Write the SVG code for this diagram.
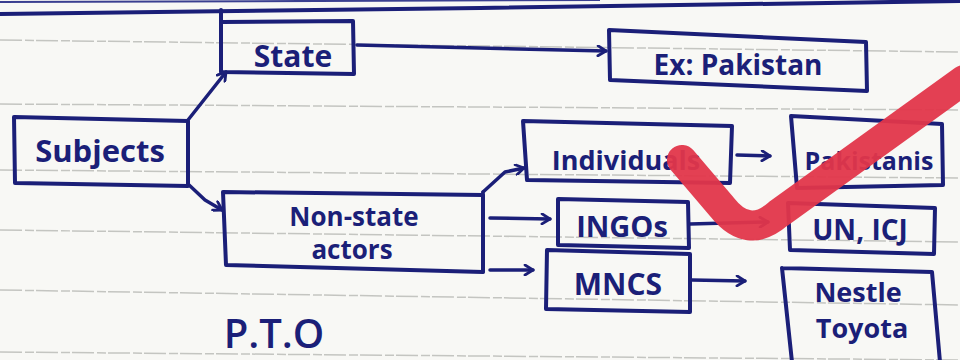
<svg xmlns="http://www.w3.org/2000/svg" width="960" height="360" viewBox="0 0 960 360">
<defs>
<style>
.bg{fill:#f8f8f5}
.rule{stroke:#c4c5c1;stroke-width:1.5;stroke-dasharray:22 3 9 2;fill:none}
.box{fill:none;stroke:#1b1f78;stroke-width:4;stroke-linejoin:round;stroke-linecap:round}
.ink{stroke:#1b1f78;stroke-width:3.5;fill:none;stroke-linecap:round;stroke-linejoin:round}
.t{font-family:"Open Sans","Liberation Sans",sans-serif;font-weight:700;fill:#1b1f78;text-anchor:middle}
</style>
<marker id="ah" viewBox="0 0 12 12" refX="10" refY="6" markerWidth="12" markerHeight="12" markerUnits="userSpaceOnUse" orient="auto">
<path d="M2,1 L10,6 L2,11" fill="none" stroke="#1b1f78" stroke-width="2.8" stroke-linecap="round" stroke-linejoin="round"/>
</marker>
</defs>
<rect class="bg" x="0" y="0" width="960" height="360"/>
<g id="paper">
<path class="rule" d="M0,40 L960,52"/>
<path class="rule" d="M0,104 L960,110"/>
<path class="rule" d="M0,170 L960,178"/>
<path class="rule" d="M0,230 L960,242"/>
<path class="rule" d="M0,290 L960,305"/>
<path class="rule" d="M0,352 L960,360"/>
<path d="M0,14 L480,8 L960,1" stroke="#1b1f78" stroke-width="4" fill="none"/>
<path d="M0,2 L600,0" stroke="#3a3f90" stroke-width="2" fill="none"/>
</g>
<g id="connectors">
<path class="ink" d="M188,120 L226,72" marker-end="url(#ah)"/>
<path class="ink" d="M188,184 L205,200 L222,210" marker-end="url(#ah)"/>
<path class="ink" d="M357,45 L606,51" marker-end="url(#ah)"/>
<path class="ink" d="M483,192 L505,172 L524,168" marker-end="url(#ah)"/>
<path class="ink" d="M483,192 L483,272"/>
<path class="ink" d="M490,218 L550,219" marker-end="url(#ah)"/>
<path class="ink" d="M490,270 L533,270" marker-end="url(#ah)"/>
<path class="ink" d="M737,155 L770,156" marker-end="url(#ah)"/>
<path class="ink" d="M690,224 L768,222" marker-end="url(#ah)"/>
<path class="ink" d="M692,280 L745,281" marker-end="url(#ah)"/>
</g>
<g id="subjects">
<path class="box" d="M14,117 L188,121 L188,186 L15,183 Z"/>
<text class="t" x="100" y="162" font-size="31">Subjects</text>
</g>
<g id="state">
<path class="box" d="M221,10 L221,72 L354,74 L353,21 L222,22"/>
<text class="t" x="293" y="67" font-size="30">State</text>
</g>
<g id="expakistan">
<path class="box" d="M609,30 L866,42 L867,91 L610,80 Z"/>
<text class="t" x="738" y="75" font-size="28">Ex: Pakistan</text>
</g>
<g id="nonstate">
<path class="box" d="M223,192 L483,195 L483,272 L226,265 Z"/>
<text class="t" x="354" y="226" font-size="26">Non-state</text>
<text class="t" x="352" y="259" font-size="26">actors</text>
</g>
<g id="individuals">
<path class="box" d="M523,121 L732,126 L730,183 L527,180 Z"/>
<text class="t" x="626" y="170" font-size="27">Individuals</text>
</g>
<g id="pakistanis">
<path class="box" d="M791,116 L942,124 L943,185 L797,188 Z"/>
<text class="t" x="869" y="170" font-size="25">Pakistanis</text>
</g>
<g id="ingos">
<path class="box" d="M558,199 L688,202 L689,248 L558,245 Z"/>
<text class="t" x="622" y="237" font-size="29">INGOs</text>
</g>
<g id="unicj">
<path class="box" d="M788,203 L935,208 L934,254 L790,250 Z"/>
<text class="t" x="860" y="240" font-size="28">UN, ICJ</text>
</g>
<g id="mncs">
<path class="box" d="M547,250 L690,254 L690,312 L546,309 Z"/>
<text class="t" x="618" y="295" font-size="30">MNCS</text>
</g>
<g id="nestletoyota">
<path class="box" d="M782,268 L932,272 L940,362 M782,268 L792,362"/>
<text class="t" x="858" y="302" font-size="27">Nestle</text>
<text class="t" x="862" y="338" font-size="27">Toyota</text>
</g>
<text class="t" x="274" y="348" font-size="40" style="font-weight:600">P.T.O</text>
<path d="M682,160 L722,207 Q748,240 778,214 L964,80" stroke="#e2364a" stroke-width="30" fill="none" stroke-linecap="round" stroke-linejoin="round" opacity="0.95"/>
</svg>
